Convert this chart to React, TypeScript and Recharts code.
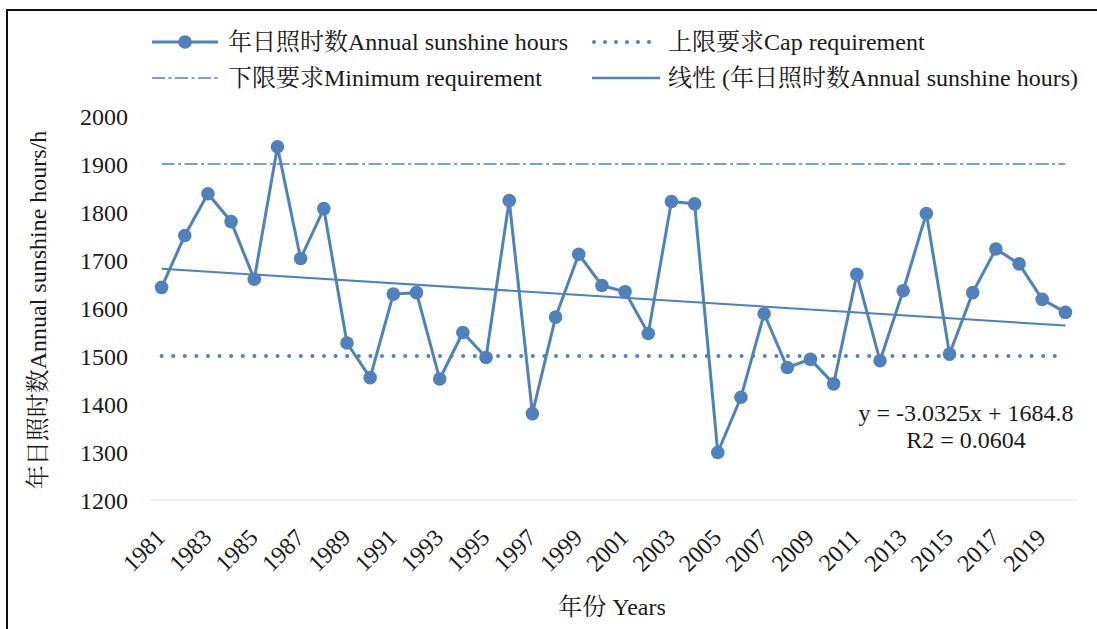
import React from 'react';
import { LineChart, Line, XAxis, YAxis } from 'recharts';

const years = ['1981','1982','1983','1984','1985','1986','1987','1988','1989','1990','1991','1992','1993','1994','1995','1996','1997','1998','1999','2000','2001','2002','2003','2004','2005','2006','2007','2008','2009','2010','2011','2012','2013','2014','2015','2016','2017','2018','2019','2020'];
const sunshine = [1643,1751,1838,1780,1660,1936,1703,1807,1527,1455,1629,1632,1452,1549,1497,1824,1380,1581,1712,1647,1634,1547,1822,1817,1299,1414,1588,1476,1493,1442,1670,1490,1636,1797,1504,1632,1723,1692,1618,1591];
const capRequirement = 1500;
const minRequirement = 1900;
const trendEnds = [1681.8, 1563.5];
const yTicks = [1200,1300,1400,1500,1600,1700,1800,1900,2000];

const data = years.map((year, i) => ({
  year,
  hours: sunshine[i],
  cap: capRequirement,
  min: minRequirement,
  trend: i === 0 ? trendEnds[0] : i === years.length - 1 ? trendEnds[1] : null,
}));

const BLUE = '#4F81BD';
const FONT = "'Liberation Serif', 'Times New Roman', 'Noto Serif CJK SC', 'Noto Sans CJK SC', serif";
const TXT = '#1a1a1a';

const XTick = (props: any) => {
  const { x, y, payload } = props;
  const ax = x + 5;
  const ay = y + 31;
  return (
    <text x={ax} y={ay} textAnchor="end" fontSize={24} fontFamily={FONT} fill={TXT}
      transform={`rotate(-45, ${ax}, ${ay})`}>{payload.value}</text>
  );
};

export default function App() {
  return (
    <div style={{ position: 'absolute', left: 0, top: 0, width: 1097, height: 629, background: '#fff', overflow: 'hidden' }}>
      <LineChart width={1097} height={629} data={data} margin={{ top: 116, right: 20, bottom: 0, left: 0 }}>
        <XAxis dataKey="year" scale="band" interval={1} height={129} tickLine={false}
          axisLine={{ stroke: '#eeeeee', strokeWidth: 1.5 }} tick={<XTick />} />
        <YAxis domain={[1200, 2000]} ticks={yTicks} width={150} axisLine={false} tickLine={false}
          tickSize={0} tickMargin={22} tick={{ fontSize: 24, fontFamily: FONT, fill: TXT }} />
        <Line dataKey="hours" stroke={BLUE} strokeWidth={3} isAnimationActive={false}
          dot={{ r: 6.8, fill: BLUE, stroke: BLUE, strokeWidth: 0 }} activeDot={false} />
        <Line dataKey="cap" stroke={BLUE} strokeWidth={4} strokeDasharray="0 11.6" strokeLinecap="round"
          dot={false} isAnimationActive={false} activeDot={false} />
        <Line dataKey="min" stroke={BLUE} strokeWidth={1.5} strokeDasharray="13 3.5 3 3.5"
          dot={false} isAnimationActive={false} activeDot={false} />
        <Line dataKey="trend" stroke={BLUE} strokeWidth={2} connectNulls dot={false}
          isAnimationActive={false} activeDot={false} />
      </LineChart>
      <svg width={1097} height={629} style={{ position: 'absolute', left: 0, top: 0, pointerEvents: 'none' }}
        fontFamily={FONT} fill={TXT}>
        <line x1={152} x2={218} y1={42} y2={42} stroke={BLUE} strokeWidth={3} />
        <circle cx={185} cy={42} r={6.8} fill={BLUE} />
        <text x={228} y={50} fontSize={24}>年日照时数Annual sunshine hours</text>
        <line x1={594} x2={660} y1={42} y2={42} stroke={BLUE} strokeWidth={4} strokeDasharray="0 11" strokeLinecap="round" />
        <text x={668} y={50} fontSize={24}>上限要求Cap requirement</text>
        <line x1={152} x2={218} y1={78} y2={78} stroke={BLUE} strokeWidth={1.5} strokeDasharray="13 3.5 3 3.5" />
        <text x={228} y={86} fontSize={24}>下限要求Minimum requirement</text>
        <line x1={592} x2={660} y1={78} y2={78} stroke={BLUE} strokeWidth={2.5} />
        <text x={668} y={86} fontSize={24}>线性 (年日照时数Annual sunshine hours)</text>
        <text x={0} y={0} fontSize={24} textAnchor="middle" transform="translate(46, 310) rotate(-90)">年日照时数Annual sunshine hours/h</text>
        <text x={612} y={615} fontSize={24} textAnchor="middle">年份 Years</text>
        <text x={966} y={421} fontSize={24} textAnchor="middle">y = -3.0325x + 1684.8</text>
        <text x={966} y={448} fontSize={24} textAnchor="middle">R2 = 0.0604</text>
      </svg>
      <div style={{ position: 'absolute', left: 6, top: 9, width: 1200, height: 700, borderTop: '2px solid #111', borderLeft: '2px solid #111', pointerEvents: 'none' }} />
    </div>
  );
}
